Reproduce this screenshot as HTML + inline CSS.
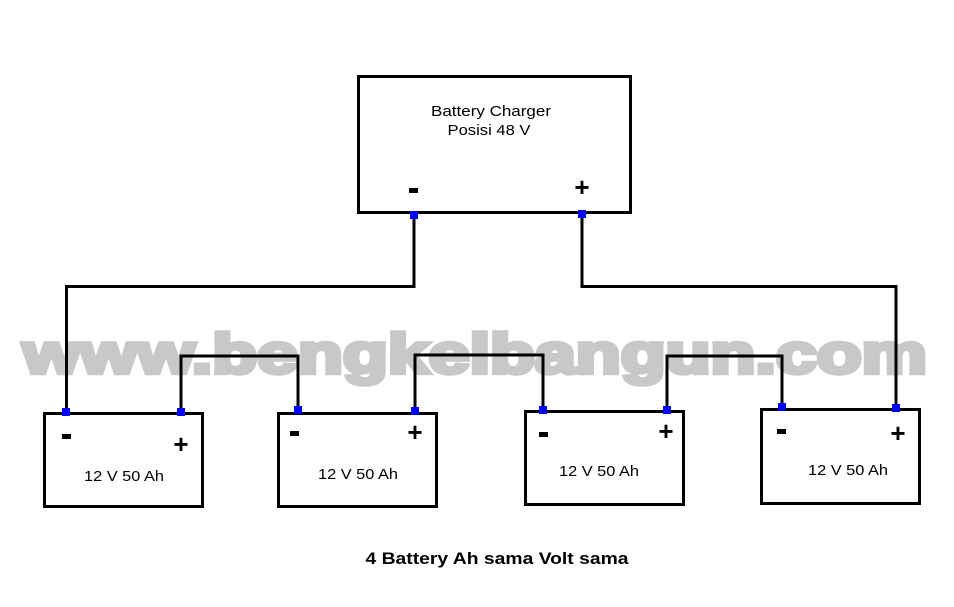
<!DOCTYPE html>
<html><head><meta charset="utf-8"><style>html,body{margin:0;padding:0;background:#fff}svg{display:block}</style></head>
<body>
<svg width="954" height="607" viewBox="0 0 954 607" xmlns="http://www.w3.org/2000/svg" font-family="Liberation Sans, Arial, sans-serif">
<rect width="954" height="607" fill="#fff"/>
<text x="23" y="373" font-size="56" font-weight="bold" fill="#c8c8c8" textLength="904" lengthAdjust="spacingAndGlyphs" stroke="#c8c8c8" stroke-width="4.5" stroke-linejoin="miter">www.bengkelbangun.com</text>
<g fill="none" stroke="#000" stroke-width="3">
<rect x="358.5" y="76.5" width="272" height="136"/>
<rect x="44.5" y="413.5" width="158" height="93"/>
<rect x="278.5" y="413.5" width="158" height="93"/>
<rect x="525.5" y="411.5" width="158" height="93"/>
<rect x="761.5" y="409.5" width="158" height="94"/>
<polyline points="414,215 414,286.5 66.5,286.5 66.5,412"/>
<polyline points="582,214 582,286.5 896,286.5 896,408"/>
<polyline points="181,412 181,356 298,356 298,410"/>
<polyline points="415,411 415,355 543,355 543,410"/>
<polyline points="667,410 667,356 782,356 782,407"/>
</g>
<g fill="#0000ff">
<rect x="410" y="211" width="8" height="8"/>
<rect x="578" y="210" width="8" height="8"/>
<rect x="62" y="408" width="8" height="8"/>
<rect x="177" y="408" width="8" height="8"/>
<rect x="294" y="406" width="8" height="8"/>
<rect x="411" y="407" width="8" height="8"/>
<rect x="539" y="406" width="8" height="8"/>
<rect x="663" y="406" width="8" height="8"/>
<rect x="778" y="403" width="8" height="8"/>
<rect x="892" y="404" width="8" height="8"/>
</g>
<g fill="#000">
<rect x="409" y="188" width="9" height="5"/>
<rect x="62" y="434" width="9" height="5"/>
<rect x="290" y="431" width="9" height="5"/>
<rect x="539" y="432" width="9" height="5"/>
<rect x="777" y="429" width="9" height="5"/>
<text x="491" y="116" font-size="15" text-anchor="middle" textLength="120" lengthAdjust="spacingAndGlyphs">Battery Charger</text>
<text x="489" y="135" font-size="15" text-anchor="middle" textLength="83" lengthAdjust="spacingAndGlyphs">Posisi 48 V</text>
<text x="582" y="196" font-size="26" font-weight="bold" text-anchor="middle">+</text>
<text x="181" y="453" font-size="26" font-weight="bold" text-anchor="middle">+</text>
<text x="124" y="481" font-size="15" text-anchor="middle" textLength="80" lengthAdjust="spacingAndGlyphs">12 V 50 Ah</text>
<text x="415" y="441" font-size="26" font-weight="bold" text-anchor="middle">+</text>
<text x="358" y="479" font-size="15" text-anchor="middle" textLength="80" lengthAdjust="spacingAndGlyphs">12 V 50 Ah</text>
<text x="666" y="440" font-size="26" font-weight="bold" text-anchor="middle">+</text>
<text x="599" y="476" font-size="15" text-anchor="middle" textLength="80" lengthAdjust="spacingAndGlyphs">12 V 50 Ah</text>
<text x="898" y="442" font-size="26" font-weight="bold" text-anchor="middle">+</text>
<text x="848" y="475" font-size="15" text-anchor="middle" textLength="80" lengthAdjust="spacingAndGlyphs">12 V 50 Ah</text>
<text x="497" y="564" font-size="17" font-weight="bold" text-anchor="middle" textLength="263" lengthAdjust="spacingAndGlyphs">4 Battery Ah sama Volt sama</text>
</g>
</svg>
</body></html>
